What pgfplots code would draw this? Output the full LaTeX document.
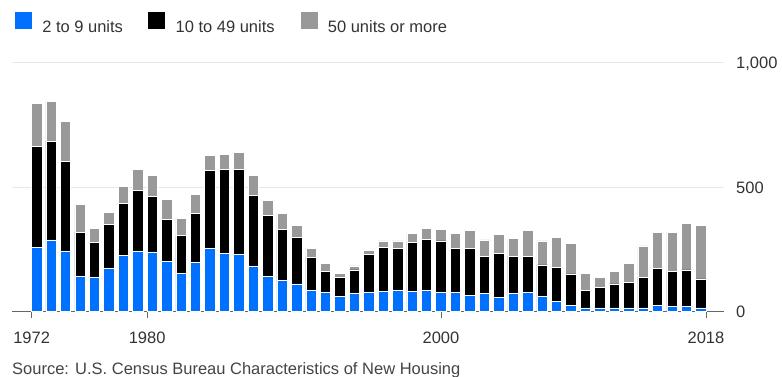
\documentclass[border=0pt]{standalone}
\usepackage{fontspec}
\setmainfont{Liberation Sans}
\usepackage{pgfplots}
\pgfplotsset{compat=1.18}
\usepackage{pgfplotstable}
\definecolor{bbblue}{HTML}{0070FF}
\definecolor{bbgray}{HTML}{999999}
\definecolor{txt}{HTML}{333333}
\definecolor{srctxt}{HTML}{444444}
\definecolor{gridc}{HTML}{E8E8E8}
\definecolor{axisc}{HTML}{666666}

% idx year blue(2-9) black(10-49) gray(50+), thousands of units
\pgfplotstableread{
idx year blue black gray
0 1972 259 404 173
1 1973 288 397 161
2 1974 244 360 161
3 1975 142 178 110
4 1976 138 141 55
5 1977 173 178 48
6 1978 225 211 66
7 1979 244 243 86
8 1980 240 222 86
9 1981 203 168 81
10 1982 153 152 70
11 1983 198 197 76
12 1984 253 316 59
13 1985 233 340 60
14 1986 229 344 66
15 1987 183 284 81
16 1988 142 244 61
17 1989 127 202 66
18 1990 112 187 46
19 1991 87 131 37
20 1992 77 85 32
21 1993 61 76 16
22 1994 72 96 16
23 1995 77 152 16
24 1996 81 178 25
25 1997 87 166 31
26 1998 81 198 35
27 1999 87 203 46
28 2000 77 207 46
29 2001 77 176 61
30 2002 66 187 72
31 2003 72 151 65
32 2004 57 176 77
33 2005 72 151 71
34 2006 77 146 102
35 2007 61 127 96
36 2008 41 136 122
37 2009 26 126 122
38 2010 15 72 66
39 2011 15 81 41
40 2012 15 97 50
41 2013 15 102 77
42 2014 15 122 127
43 2015 26 147 147
44 2016 20 142 158
45 2017 20 148 187
46 2018 15 117 213
}\housing

\newcommand{\fs}{\fontsize{16.5}{19}\selectfont}

\begin{document}
\begin{tikzpicture}
\useasboundingbox (0,0) rectangle (782pt,377pt);
\begin{axis}[
  at={(12pt,65.3pt)}, anchor=south west,
  width=712pt, height=249pt, scale only axis,
  xmin=-1.71, xmax=47.6, ymin=0, ymax=1000,
  ybar stacked, bar width=10.4pt,
  axis x line*=bottom, axis y line*=right,
  x axis line style={draw=axisc, line width=0.9pt, -},
  y axis line style={draw=none},
  xtick={-0.35,7.65,28,46.35},
  xticklabels={1972,1980,2000,2018},
  xtick style={draw=axisc, line width=0.9pt},
  tick align=outside, major tick length=6pt,
  ytick={0,500,1000}, yticklabels={0,500,{1,000}},
  ytick style={draw=none},
  ymajorgrids, grid style={draw=gridc, line width=1pt},
  tick label style={font=\fs, text=txt},
  yticklabel style={anchor=base west, inner sep=0pt, xshift=6pt, yshift=-6pt},
  xticklabel style={anchor=base, inner sep=0pt, yshift=-26.3pt},
  legend columns=3,
  legend style={draw=none, fill=none, at={(0.0042,1.2036)}, anchor=north west,
    inner sep=0pt, outer sep=0pt, font=\fs, text=txt,
    nodes={inner sep=0pt, text=txt}},
  legend image code/.code={\fill[#1,draw=none] (0pt,-2pt) rectangle (17pt,15pt); \path (27pt,0pt);},
]
\addplot[fill=bbblue, draw=white, line width=0.6pt] table[x=idx, y=blue] {\housing};
\addplot[fill=black, draw=white, line width=0.6pt] table[x=idx, y=black] {\housing};
\addplot[fill=bbgray, draw=white, line width=0.6pt] table[x=idx, y=gray] {\housing};
\addlegendentry{\makebox[106pt][l]{2 to 9 units}}
\addlegendentry{\makebox[125pt][l]{10 to 49 units}}
\addlegendentry{50 units or more}
\end{axis}
\node[anchor=base west, inner sep=0pt, text=srctxt, font=\fs] at (12pt,2.7pt) {Source: U.S. Census Bureau Characteristics of New Housing};
\end{tikzpicture}
\end{document}
